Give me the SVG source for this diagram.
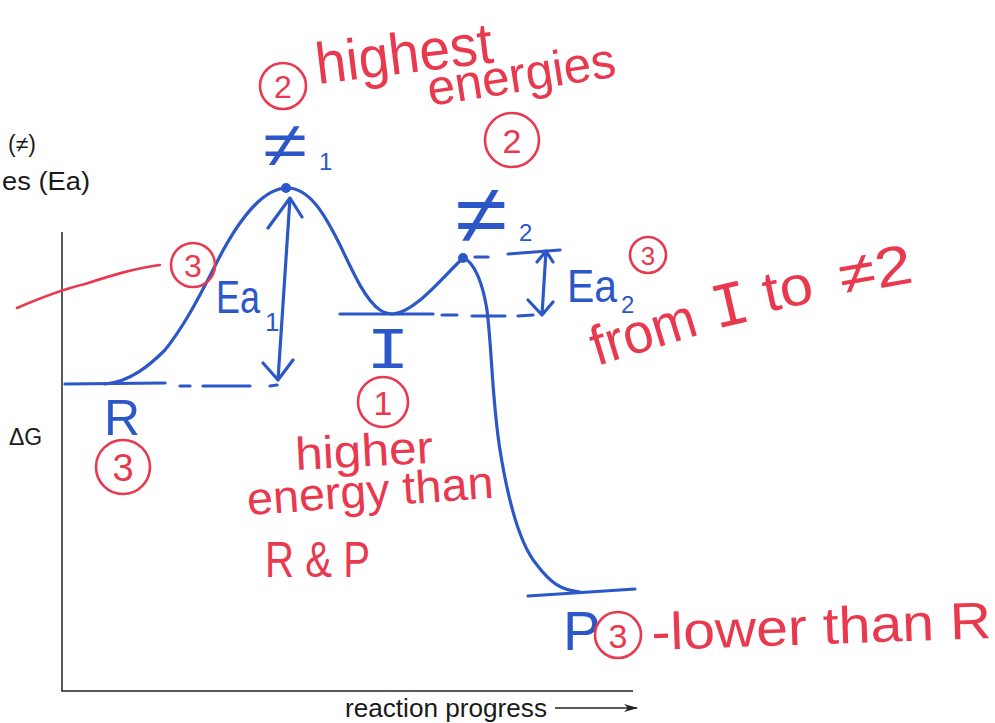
<svg xmlns="http://www.w3.org/2000/svg" width="995" height="723" viewBox="0 0 995 723">
<defs>
<style>
.ax{stroke:#222;stroke-width:1.5;fill:none}
.bl{stroke:#2c57c8;stroke-width:3.2;fill:none;stroke-linecap:round;stroke-linejoin:round}
.rd{stroke:#e8394f;stroke-width:2.6;fill:none;stroke-linecap:round}
.pt{font-family:"Liberation Sans",Arial,sans-serif;fill:#1a1a1a}
.bt{font-family:"Liberation Sans",Arial,sans-serif;fill:#2c57c8}
.rt{font-family:"Liberation Sans",Arial,sans-serif;fill:#e8394f}
.mono{font-family:"Liberation Mono","Courier New",monospace}
</style>
<marker id="ah" markerWidth="14" markerHeight="8" refX="13" refY="4" orient="auto" markerUnits="userSpaceOnUse">
<path d="M0,0 L14,4 L0,8 L4,4 Z" fill="#222"/>
</marker>
</defs>
<rect width="995" height="723" fill="#fff"/>

<g id="printed-labels">
<text class="pt" x="8" y="152" font-size="23">(≠)</text>
<text class="pt" x="2" y="190" font-size="25" textLength="88" lengthAdjust="spacingAndGlyphs">es (Ea)</text>
<text class="pt" x="9" y="445" font-size="23">ΔG</text>
<text class="pt" x="345" y="717" font-size="25" textLength="202" lengthAdjust="spacingAndGlyphs">reaction progress</text>
</g>

<g id="axes">
<path class="ax" d="M62 232 L62 691 L633 691"/>
<path class="ax" d="M555 708 L637 708" marker-end="url(#ah)"/>
</g>

<g id="connectors">
<path class="bl" d="M65 384 L165 383"/>
<path class="bl" d="M105 384 C130 382,150 365,165 350 C185 325,200 295,213 270 C230 235,258 188,287 188 C310 188,325 215,340 245 C352 270,365 300,380 310 C385 313,390 314,393 314 C415 312,440 280,463 258 C475 262,483 285,487 310 C492 350,492 400,500 450 C508 500,520 545,537 565 C550 582,560 590,580 592"/>
<path class="bl" d="M340 314 L433 314"/>
<path class="bl" d="M528 596 L635 589"/>
<path class="bl" d="M180 386 L190 386 M203 386 L250 386 M270 386 L277 385" stroke-width="2.6"/>
<path class="bl" d="M442 315 L457 315 M472 316 L505 316 M518 316 L533 315" stroke-width="2.6"/>
<path class="bl" d="M475 257 L488 257 M508 254 L560 250" stroke-width="2.6"/>
<circle cx="286" cy="188" r="5" fill="#2c57c8"/>
<circle cx="463" cy="258" r="5" fill="#2c57c8"/>
<path class="bl" d="M290 198 L278 380 M268 228 L290 198 L302 217 M263 363 L278 380 L293 360" stroke-width="2.8"/>
<path class="bl" d="M546 251 L542 315 M537 262 L546 251 L553 262 M528 300 L542 315 L553 302" stroke-width="2.6"/>
<path class="rd" d="M17 308 C40 298,60 290,85 284 C110 276,135 268,160 265"/>
</g>

<g id="ts1">
<text class="bt" x="263" y="167" font-size="64"><tspan textLength="44" lengthAdjust="spacingAndGlyphs">≠</tspan><tspan x="319" y="170" font-size="24">1</tspan></text>
</g>
<g id="ts2">
<text class="bt" x="455" y="243" font-size="84"><tspan textLength="52" lengthAdjust="spacingAndGlyphs">≠</tspan><tspan x="519" y="241" font-size="24">2</tspan></text>
</g>
<g id="ea1">
<text class="bt" x="216" y="313" font-size="46"><tspan textLength="44" lengthAdjust="spacingAndGlyphs">Ea</tspan><tspan x="265" y="331" font-size="26">1</tspan></text>
</g>
<g id="ea2">
<text class="bt" x="567" y="302" font-size="46"><tspan textLength="50" lengthAdjust="spacingAndGlyphs">Ea</tspan><tspan x="621" y="313" font-size="24">2</tspan></text>
</g>
<g id="R">
<text class="bt" x="104" y="435" font-size="50">R</text>
</g>
<g id="I">
<text class="mono" x="366" y="368" font-size="60" textLength="44" lengthAdjust="spacingAndGlyphs" fill="#2c57c8">I</text>
</g>
<g id="P">
<text class="bt" x="563" y="650" font-size="56">P</text>
</g>

<g id="c2a">
<circle class="rd" cx="283" cy="86" r="23"/>
<text class="rt" x="283" y="98" font-size="32" text-anchor="middle">2</text>
</g>
<g id="c2b">
<circle class="rd" cx="512" cy="140" r="27"/>
<text class="rt" x="512" y="153" font-size="34" text-anchor="middle">2</text>
</g>
<g id="c3a">
<circle class="rd" cx="193" cy="265" r="22"/>
<text class="rt" x="193" y="277" font-size="32" text-anchor="middle">3</text>
</g>
<g id="c3b">
<circle class="rd" cx="648" cy="255" r="18"/>
<text class="rt" x="648" y="265" font-size="26" text-anchor="middle">3</text>
</g>
<g id="c1">
<circle class="rd" cx="383" cy="402" r="25"/>
<text class="rt" x="383" y="415" font-size="34" text-anchor="middle">1</text>
</g>
<g id="c3c">
<circle class="rd" cx="123" cy="467" r="27"/>
<text class="rt" x="123" y="481" font-size="38" text-anchor="middle">3</text>
</g>
<g id="c3d">
<circle class="rd" cx="618" cy="635" r="23"/>
<text class="rt" x="618" y="648" font-size="34" text-anchor="middle">3</text>
</g>

<g id="notes">
<text class="rt" x="318" y="84" font-size="58" textLength="178" lengthAdjust="spacingAndGlyphs" transform="rotate(-7 318 84)">highest</text>
<text class="rt" x="430" y="106" font-size="50" textLength="190" lengthAdjust="spacingAndGlyphs" transform="rotate(-9 430 106)">energies</text>
<text class="rt" x="597" y="366" font-size="56" textLength="108" lengthAdjust="spacingAndGlyphs" transform="rotate(-17 597 366)">from</text>
<text class="rt mono" x="716" y="329" font-size="64" textLength="38" lengthAdjust="spacingAndGlyphs" transform="rotate(-13 716 329)">I</text>
<text class="rt" x="767" y="312" font-size="56" textLength="50" lengthAdjust="spacingAndGlyphs" transform="rotate(-12 767 312)">to</text>
<text class="rt" x="842" y="295" font-size="56" textLength="74" lengthAdjust="spacingAndGlyphs" transform="rotate(-10 842 295)">≠2</text>
<text class="rt" x="296" y="470" font-size="46" textLength="138" lengthAdjust="spacingAndGlyphs" transform="rotate(-3 296 470)">higher</text>
<text class="rt" x="248" y="515" font-size="46" textLength="247" lengthAdjust="spacingAndGlyphs" transform="rotate(-4 248 515)">energy than</text>
<text class="rt" x="265" y="577" font-size="50" textLength="105" lengthAdjust="spacingAndGlyphs">R &amp; P</text>
<text class="rt" x="652" y="650" font-size="52" textLength="340" lengthAdjust="spacingAndGlyphs" transform="rotate(-2 652 650)">-lower than R</text>
</g>
</svg>
